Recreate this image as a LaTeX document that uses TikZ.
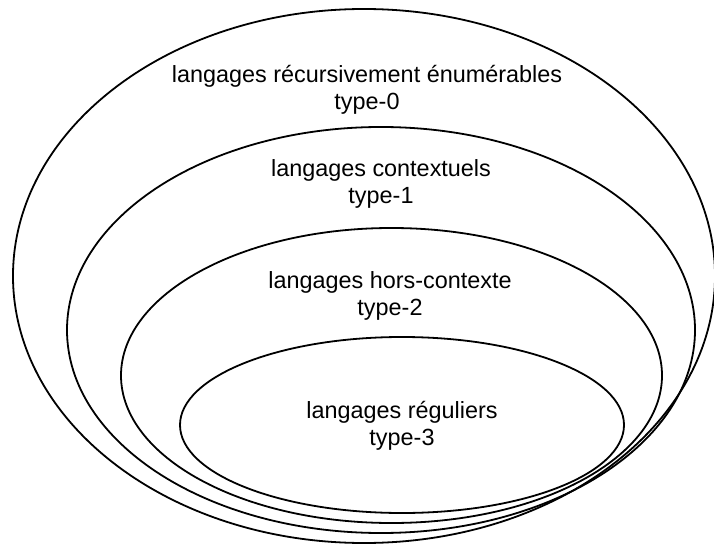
\documentclass[tikz,border=0pt]{standalone}
\usepackage{fontspec}
\setmainfont{Liberation Sans}
\usetikzlibrary{shapes.geometric}
\tikzstyle{langset} = [ellipse, draw=black, line width=1.8pt, inner sep=0pt]
\tikzstyle{langtext} = [align=center, text centered, font=\fontsize{23.4}{27}\selectfont]

\begin{document}
\begin{tikzpicture}[x=1pt, y=-1pt]
\useasboundingbox (0,0) rectangle (714,545);

% Ellipses (outermost first)
\node (type0) [langset, minimum width=702pt, minimum height=534pt] at (364,276) {};
\node (type1) [langset, minimum width=628pt, minimum height=406pt] at (381,330) {};
\node (type2) [langset, minimum width=541pt, minimum height=295pt] at (391.5,375.5) {};
\node (type3) [langset, minimum width=444pt, minimum height=176pt] at (402,425) {};

% Labels
\node (label0) [langtext] at (367,89.5) {langages récursivement énumérables\\type-0};
\node (label1) [langtext] at (381,184) {langages contextuels\\type-1};
\node (label2) [langtext] at (390,296) {langages hors-contexte\\type-2};
\node (label3) [langtext] at (402,425.5) {langages réguliers\\type-3};

\end{tikzpicture}
\end{document}
